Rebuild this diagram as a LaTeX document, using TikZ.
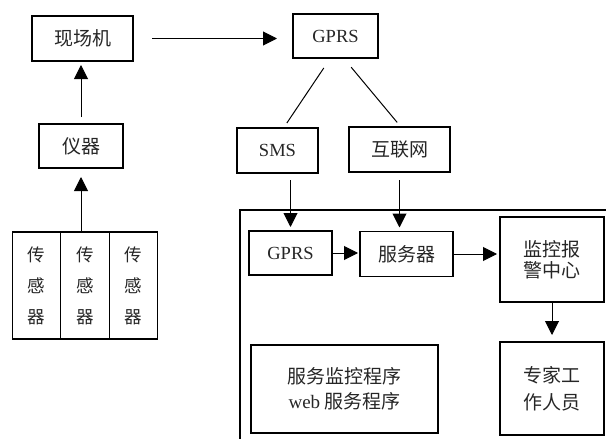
\documentclass[tikz,border=0pt]{standalone}
\usepackage{fontspec}
\setmainfont{Liberation Serif}
\newfontfamily\hei{Noto Sans CJK SC}
\usetikzlibrary{arrows.meta,positioning}
\tikzset{
  blk/.style={draw,line width=1.4pt,align=center,inner sep=0pt,outer sep=0pt,text=black!85},
  zh/.style={font=\hei\fontsize{19}{22}\selectfont},
  en/.style={font=\fontsize{18.5}{22}\selectfont},
  sensor/.style={blk,font=\hei\fontsize{17.5}{31}\selectfont,minimum width=48.5pt,minimum height=107pt},
  arr/.style={-{Triangle[length=14pt,width=14pt]},line width=1pt},
  link/.style={line width=1pt},
}
\begin{document}
\begin{tikzpicture}[x=1pt,y=-1pt]
  \useasboundingbox (0,0) rectangle (606,439);
  \node[blk,zh,minimum width=101pt,minimum height=45pt] (xcj) at (82.5,38.5) {现场机};
  \node[blk,en,minimum width=85pt,minimum height=44pt] (gprs) at (335.5,36) {GPRS};
  \node[blk,zh,minimum width=84pt,minimum height=44pt] (yq) at (81,146) {仪器};
  \node[blk,en,minimum width=81pt,minimum height=45pt] (sms) at (277.5,150.5) {SMS};
  \node[blk,zh,minimum width=101pt,minimum height=45pt] (hlw) at (399.5,149.5) {互联网};
  \node[sensor] (s1) at (36.5,285.5) {传\\感\\器};
  \node[sensor,right=0pt of s1] (s2) {传\\感\\器};
  \node[sensor,right=0pt of s2] (s3) {传\\感\\器};
  \draw[line width=1.4pt] (606,210) -| (240,439);
  \node[blk,en,minimum width=83pt,minimum height=44pt] (gprs2) at (290.5,253) {GPRS};
  \node[blk,zh,minimum width=93pt,minimum height=45pt] (fwq) at (406.5,254) {服务器};
  \node[blk,font=\hei\fontsize{19}{21}\selectfont,minimum width=104pt,minimum height=85pt] (jk) at (552,259.5) {监控报\\警中心};
  \node[blk,font=\hei\fontsize{19}{27}\selectfont,minimum width=104pt,minimum height=93pt] (zj) at (552,388.5) {专家工\\作人员};
  \node[blk,font=\hei\fontsize{19}{25}\selectfont,minimum width=187pt,minimum height=88pt] (fwjk) at (344.5,389) {服务监控程序\\{\rmfamily web} 服务程序};
  \draw[arr,shorten <=19pt,shorten >=16pt] (xcj.east) -- (xcj.east -| gprs.west);
  \draw[arr,shorten <=7pt,shorten >=4pt] (yq.north) -- (yq.north |- xcj.south);
  \draw[arr,shorten >=9pt] (s2.north -| yq.south) -- (yq.south);
  \draw[link,shorten <=12pt,shorten >=6pt] ([xshift=-5pt]gprs.south) -- ([xshift=6pt]sms.north);
  \draw[link,shorten <=12pt,shorten >=6pt] ([xshift=8pt]gprs.south) -- ([xshift=1.5pt]hlw.north);
  \draw[arr,shorten <=7pt,shorten >=4pt] (sms.south -| gprs2.north) -- (gprs2.north);
  \draw[arr,shorten <=8pt,shorten >=4pt] (hlw.south) -- (hlw.south |- fwq.north);
  \draw[arr,shorten >=2pt] (gprs2.east) -- (gprs2.east -| fwq.west);
  \draw[arr,shorten >=3pt] (fwq.east) -- (fwq.east -| jk.west);
  \draw[arr,shorten >=7pt] (jk.south) -- (zj.north);
\end{tikzpicture}
\end{document}
